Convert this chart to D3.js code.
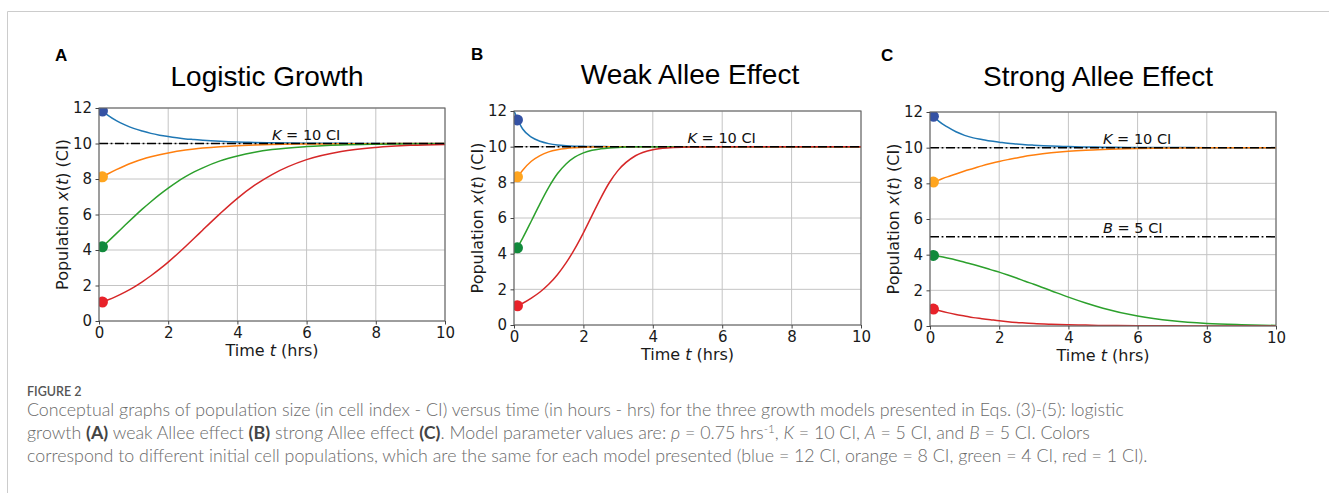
<!DOCTYPE html>
<html><head><meta charset="utf-8">
<script src="https://cdn.jsdelivr.net/npm/d3@7"></script>
<style>body{margin:0;background:#fff} svg{display:block}</style>
</head><body>
<svg id="c" width="1329" height="493"></svg>
<script>
// ---------- DATA ----------
const timeGrid = [0,0.25,0.5,0.75,1,1.25,1.5,1.75,2,2.25,2.5,2.75,3,3.5,4,4.5,5,6,7,8,9,10];

const logisticBlue   = [12,11.60,11.29,11.05,10.85,10.70,10.57,10.47,10.39,10.32,10.26,10.22,10.18,10.12,10.08,10.06,10.04,10.02,10.01,10.00,10.00,10.00];
const logisticOrange = [8,8.28,8.53,8.75,8.94,9.11,9.25,9.37,9.47,9.56,9.63,9.69,9.74,9.82,9.88,9.91,9.94,9.97,9.99,9.99,10.00,10.00];
const logisticGreen  = [4,4.46,4.92,5.39,5.85,6.30,6.72,7.12,7.49,7.83,8.13,8.40,8.63,9.02,9.30,9.51,9.66,9.83,9.92,9.96,9.98,9.99];
const logisticRed    = [1,1.18,1.39,1.63,1.90,2.21,2.55,2.92,3.32,3.75,4.20,4.66,5.13,6.05,6.91,7.65,8.25,9.09,9.55,9.78,9.90,9.95];

const weakBlue   = [12,10.99,10.53,10.30,10.17,10.09,10.05,10.03,10.02,10.01,10.01,10.00,10.00,10,10,10,10,10,10,10,10,10];
const weakOrange = [8,8.68,9.18,9.50,9.71,9.83,9.90,9.94,9.97,9.98,9.99,10,10,10,10,10,10,10,10,10,10,10];
const weakGreen  = [4,4.87,5.83,6.81,7.72,8.48,9.03,9.41,9.65,9.80,9.88,9.93,9.96,9.99,10,10,10,10,10,10,10,10];
const weakRed    = [1,1.22,1.51,1.85,2.28,2.82,3.48,4.27,5.17,6.15,7.12,7.99,8.67,9.49,9.83,9.94,9.98,10,10,10,10,10];

const strongBlue   = [12,11.49,11.16,10.89,10.69,10.55,10.46,10.37,10.31,10.25,10.21,10.17,10.14,10.09,10.06,10.04,10.03,10.01,10.01,10.00,10.00,10.00];
const strongOrange = [8,8.18,8.36,8.52,8.69,8.83,8.98,9.11,9.23,9.33,9.42,9.52,9.59,9.71,9.80,9.86,9.90,9.95,9.98,9.99,9.99,10.00];
const strongGreen  = [4,3.91,3.81,3.70,3.57,3.45,3.31,3.16,3.02,2.86,2.69,2.51,2.34,1.98,1.62,1.29,1.00,0.56,0.29,0.14,0.07,0.03];
const strongRed    = [1,0.87,0.75,0.65,0.56,0.47,0.41,0.35,0.29,0.24,0.20,0.17,0.14,0.10,0.07,0.05,0.03,0.02,0.01,0.00,0.00,0.00];

const markerTime = 0.1;
const logisticMarkers = [11.83, 8.12, 4.18, 1.07];
const weakMarkers     = [11.50, 8.31, 4.33, 1.08];
const strongMarkers   = [11.76, 8.07, 3.96, 0.95];

const logisticLines = [{symbol:'K', value:10}];
const weakLines     = [{symbol:'K', value:10}];
const strongLines   = [{symbol:'K', value:10}, {symbol:'B', value:5}];
const thresholdLabelTime = 5;

const xTicks = [0,2,4,6,8,10];
const yTicks = [0,2,4,6,8,10,12];
const panelTitles  = ['Logistic Growth','Weak Allee Effect','Strong Allee Effect'];
const panelLetters = ['A','B','C'];

// ---------- STYLE ----------
const lineColors   = ['#1f77b4','#ff7f0e','#2ca02c','#d62728'];
const markerColors = ['#3552a4','#ffa51f','#118a3c','#e8222a'];
const tickFont = '"DejaVu Sans", sans-serif';

const svg = d3.select('#c');

// page frame
svg.append('path').attr('d','M7.5,493 V11.5 H1329').attr('fill','none').attr('stroke','#cccccc').attr('stroke-width',1);

const layouts = [
  {x0:99,  x1:445,  y0:108, y1:321, titleX:267,  titleY:86, letterX:55,  letterY:61},
  {x0:514, x1:861,  y0:111, y1:325, titleX:690,  titleY:84, letterX:471, letterY:60},
  {x0:930, x1:1276, y0:112, y1:326, titleX:1098, titleY:86, letterX:881, letterY:61}
];
const panelSeries  = [[logisticBlue,logisticOrange,logisticGreen,logisticRed],
                      [weakBlue,weakOrange,weakGreen,weakRed],
                      [strongBlue,strongOrange,strongGreen,strongRed]];
const panelMarkers = [logisticMarkers, weakMarkers, strongMarkers];
const panelLines   = [logisticLines, weakLines, strongLines];

layouts.forEach((L, i) => {
  const g = svg.append('g');
  const x = d3.scaleLinear().domain([0,10]).range([L.x0, L.x1]);
  const y = d3.scaleLinear().domain([0,12]).range([L.y1, L.y0]);

  const clipId = 'clip' + i;
  svg.append('clipPath').attr('id', clipId).append('rect')
    .attr('x', L.x0).attr('y', L.y0).attr('width', L.x1 - L.x0).attr('height', L.y1 - L.y0);

  // grid
  g.append('g').selectAll('line').data(xTicks).join('line')
    .attr('x1', d => x(d)).attr('x2', d => x(d)).attr('y1', L.y0).attr('y2', L.y1)
    .attr('stroke', '#c4c4c4').attr('stroke-width', 1);
  g.append('g').selectAll('line').data(yTicks).join('line')
    .attr('y1', d => y(d)).attr('y2', d => y(d)).attr('x1', L.x0).attr('x2', L.x1)
    .attr('stroke', '#c4c4c4').attr('stroke-width', 1);

  const plot = g.append('g').attr('clip-path', `url(#${clipId})`);
  const line = d3.line().x((d, k) => x(timeGrid[k])).y(d => y(d)).curve(d3.curveMonotoneX);
  panelSeries[i].forEach((s, k) => {
    plot.append('path').attr('d', line(s)).attr('fill', 'none')
      .attr('stroke', lineColors[k]).attr('stroke-width', 1.5);
  });

  // threshold lines
  panelLines[i].forEach(t => {
    plot.append('line').attr('x1', L.x0).attr('x2', L.x1).attr('y1', y(t.value)).attr('y2', y(t.value))
      .attr('stroke', '#000').attr('stroke-width', 1.5).attr('stroke-dasharray', '9,2.6,1.8,2.6');
    const tx = g.append('text').attr('x', x(thresholdLabelTime)).attr('y', y(t.value) - 3.5)
      .attr('font-family', tickFont).attr('font-size', 14.5).attr('fill', '#111');
    tx.append('tspan').attr('font-style', 'italic').text(t.symbol);
    tx.append('tspan').text(' = ' + t.value + ' CI');
  });

  // markers
  plot.selectAll('circle').data(panelMarkers[i]).join('circle')
    .attr('cx', x(markerTime)).attr('cy', d => y(d)).attr('r', 5.5)
    .attr('fill', (d, k) => markerColors[k]);

  // spines
  g.append('rect').attr('x', L.x0).attr('y', L.y0).attr('width', L.x1 - L.x0).attr('height', L.y1 - L.y0)
    .attr('fill', 'none').attr('stroke', '#666').attr('stroke-width', 1.1);

  // axes
  const xa = g.append('g').attr('transform', `translate(0,${L.y1})`)
    .call(d3.axisBottom(x).tickValues(xTicks).tickSize(3.5).tickPadding(3).tickFormat(d3.format('d')));
  const ya = g.append('g').attr('transform', `translate(${L.x0},0)`)
    .call(d3.axisLeft(y).tickValues(yTicks).tickSize(3.5).tickPadding(3.5).tickFormat(d3.format('d')));
  [xa, ya].forEach(a => {
    a.select('.domain').remove();
    a.selectAll('.tick line').attr('stroke', '#444');
    a.selectAll('.tick text').attr('font-family', tickFont).attr('font-size', 15).attr('fill', '#1a1a1a');
  });

  // axis labels
  const xl = g.append('text').attr('x', (L.x0 + L.x1) / 2).attr('y', L.y1 + 35)
    .attr('text-anchor', 'middle').attr('font-family', tickFont).attr('font-size', 16).attr('fill', '#1a1a1a');
  xl.append('tspan').text('Time ');
  xl.append('tspan').attr('font-style', 'italic').text('t');
  xl.append('tspan').text(' (hrs)');

  const yl = g.append('text')
    .attr('transform', `translate(${L.x0 - 31},${(L.y0 + L.y1) / 2}) rotate(-90)`)
    .attr('text-anchor', 'middle').attr('font-family', tickFont).attr('font-size', 16).attr('fill', '#1a1a1a');
  yl.append('tspan').text('Population ');
  yl.append('tspan').attr('font-style', 'italic').text('x');
  yl.append('tspan').text('(');
  yl.append('tspan').attr('font-style', 'italic').text('t');
  yl.append('tspan').text(') (CI)');

  // title and letter
  g.append('text').attr('x', L.titleX).attr('y', L.titleY).attr('text-anchor', 'middle')
    .attr('font-family', '"Liberation Sans", Arial, sans-serif').attr('font-size', 28).attr('fill', '#000')
    .text(panelTitles[i]);
  g.append('text').attr('x', L.letterX).attr('y', L.letterY)
    .attr('font-family', '"Liberation Sans", Arial, sans-serif').attr('font-weight', 'bold').attr('font-size', 17).attr('fill', '#000')
    .text(panelLetters[i]);
});

// ---------- CAPTION ----------
const capFont = 'Lato, "Open Sans", sans-serif';
svg.append('text').attr('x', 27).attr('y', 396).attr('font-family', capFont).attr('font-weight', 600)
  .attr('font-size', 12.5).attr('fill', '#555').text('FIGURE 2');

const capLines = [
  [['Conceptual graphs of population size (in cell index - CI) versus time (in hours - hrs) for the three growth models presented in Eqs. (3)-(5): logistic']],
  [['growth '],['(A)','b'],[' weak Allee effect '],['(B)','b'],[' strong Allee effect '],['(C)','b'],['. Model parameter values are: '],['ρ','i'],[' = 0.75 hrs'],['-1','sup'],[', ','after'],['K','i'],[' = 10 CI, '],['A','i'],[' = 5 CI, and '],['B','i'],[' = 5 CI. Colors']],
  [['correspond to different initial cell populations, which are the same for each model presented (blue = 12 CI, orange = 8 CI, green = 4 CI, red = 1 CI).']]
];
const capY = [416, 439, 462];
let capSize = 15;
const capEls = capLines.map((parts, li) => {
  const t = svg.append('text').attr('x', 27).attr('y', capY[li]).attr('font-family', capFont)
    .attr('font-weight', 300).attr('font-size', capSize).attr('fill', '#6a6a6a');
  parts.forEach(p => {
    const s = t.append('tspan').text(p[0]);
    if (p[1] === 'b') s.attr('font-weight', 700).attr('fill', '#444');
    if (p[1] === 'i') s.attr('font-style', 'italic');
    if (p[1] === 'sup') s.attr('font-size', '0.65em').attr('y', capY[li] - 6);
    if (p[1] === 'after') s.attr('y', capY[li]);
  });
  return t;
});
// fit the first line to its width in the reference
const w0 = capEls[0].node().getComputedTextLength();
capSize = capSize * 1098 / w0;
capEls.forEach(t => t.attr('font-size', capSize));
</script>
</body></html>
